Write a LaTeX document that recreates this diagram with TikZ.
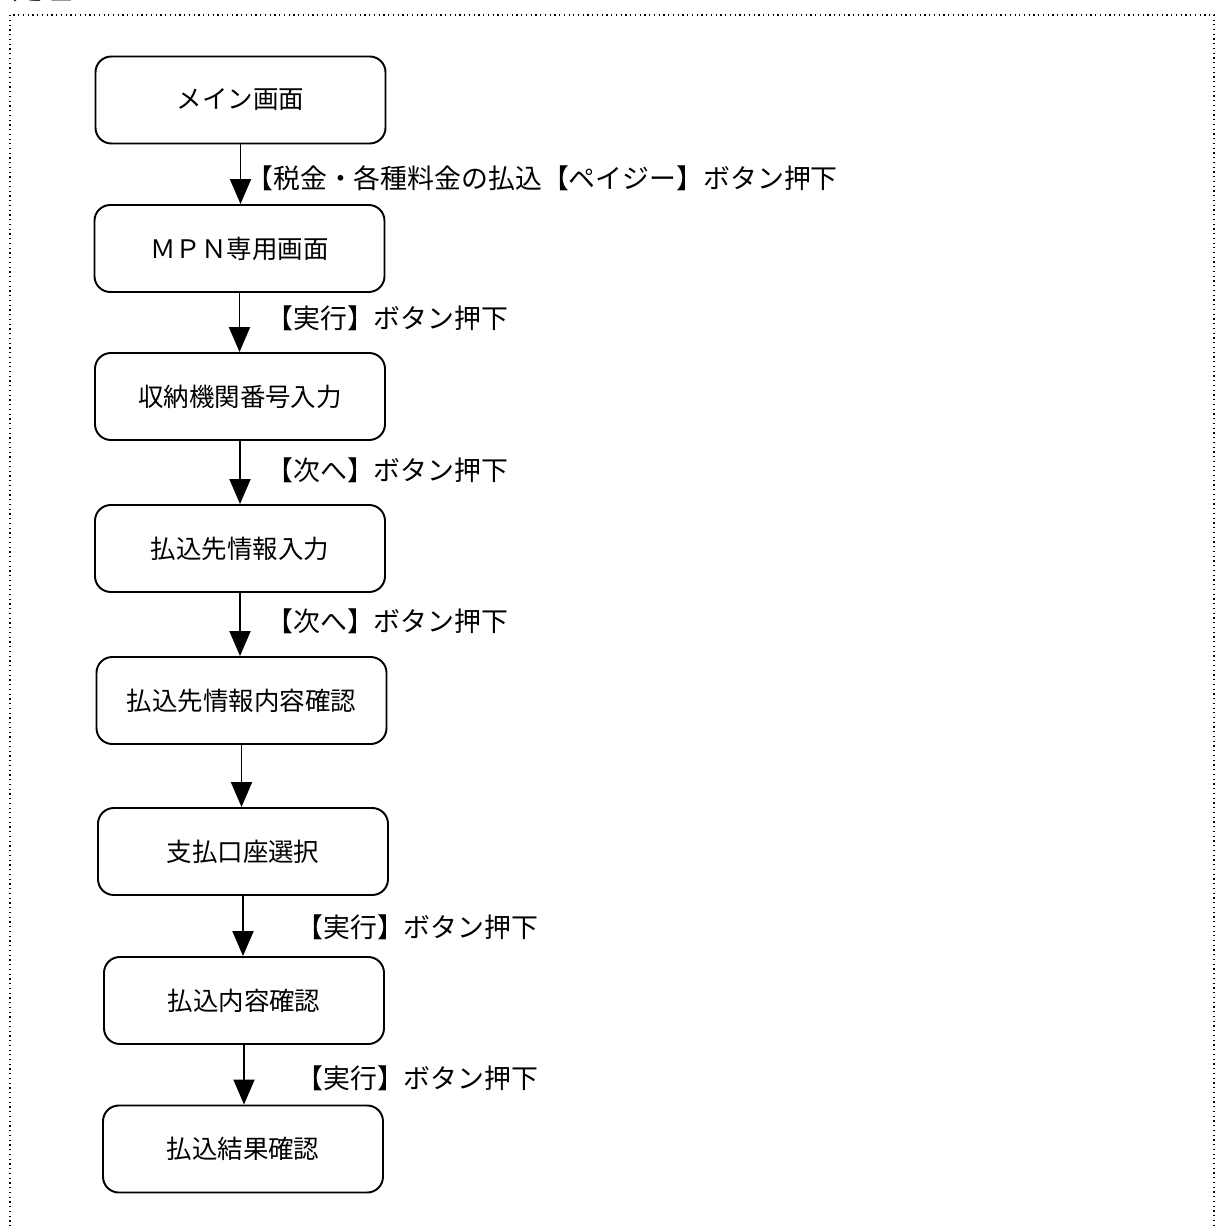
\documentclass[tikz,border=0pt]{standalone}
\usepackage{fontspec}
\setmainfont{Noto Sans CJK JP}
\usepackage{tikz}
\usetikzlibrary{arrows.meta, positioning}

\begin{document}
\begin{tikzpicture}[
    screen/.style={draw, line width=1.1pt, rounded corners=9pt,
                   minimum width=5.8cm, minimum height=1.74cm,
                   align=center, font=\fontsize{14.5}{17}\selectfont},
    flowarrow/.style={line width=1.1pt, -{Triangle[length=0.5cm, width=0.42cm]}},
    btnlabel/.style={anchor=west, inner sep=0pt, font=\fontsize{15.3}{18}\selectfont}
  ]
  \useasboundingbox (0,0) rectangle (24.36,-24.52);
  % heading cut off at the top edge
  \node[anchor=base west, inner sep=0pt, font=\fontsize{17}{20}\selectfont] (title) at (0.24,0.0) {処理フロー};
  % dotted frame
  \draw[dotted, line width=0.7pt] (0.2,-25) -- (0.2,-0.3) -- (24.28,-0.3) -- (24.28,-25);

  \node[screen] (main) at (4.81, -2.0) {メイン画面};
  \node[screen] (mpn) at (4.79, -4.97) {ＭＰＮ専用画面};
  \node[screen] (orgnum) at (4.80, -7.93) {収納機関番号入力};
  \node[screen] (payee) at (4.80, -10.97) {払込先情報入力};
  \node[screen] (payeecheck) at (4.83, -14.01) {払込先情報内容確認};
  \node[screen] (account) at (4.86, -17.03) {支払口座選択};
  \node[screen, minimum width=5.6cm] (paycheck) at (4.88, -20.01) {払込内容確認};
  \node[screen, minimum width=5.6cm] (result) at (4.86, -22.98) {払込結果確認};

  \draw[flowarrow] (main.south) -- (main.south |- mpn.north);
  \draw[flowarrow] (mpn.south) -- (mpn.south |- orgnum.north);
  \draw[flowarrow] (orgnum.south) -- (orgnum.south |- payee.north);
  \draw[flowarrow] (payee.south) -- (payee.south |- payeecheck.north);
  \draw[flowarrow] (payeecheck.south) -- (payeecheck.south |- account.north);
  \draw[flowarrow] (account.south) -- (account.south |- paycheck.north);
  \draw[flowarrow] (paycheck.south) -- (paycheck.south |- result.north);

  \node[btnlabel] (lbl1) at (4.92, -3.56) {【税金・各種料金の払込【ペイジー】ボタン押下};
  \node[btnlabel] (lbl2) at (5.32, -6.36) {【実行】ボタン押下};
  \node[btnlabel] (lbl3) at (5.32, -9.40) {【次へ】ボタン押下};
  \node[btnlabel] (lbl4) at (5.32, -12.42) {【次へ】ボタン押下};
  \node[btnlabel] (lbl6) at (5.92, -18.54) {【実行】ボタン押下};
  \node[btnlabel] (lbl7) at (5.92, -21.56) {【実行】ボタン押下};
\end{tikzpicture}
\end{document}
